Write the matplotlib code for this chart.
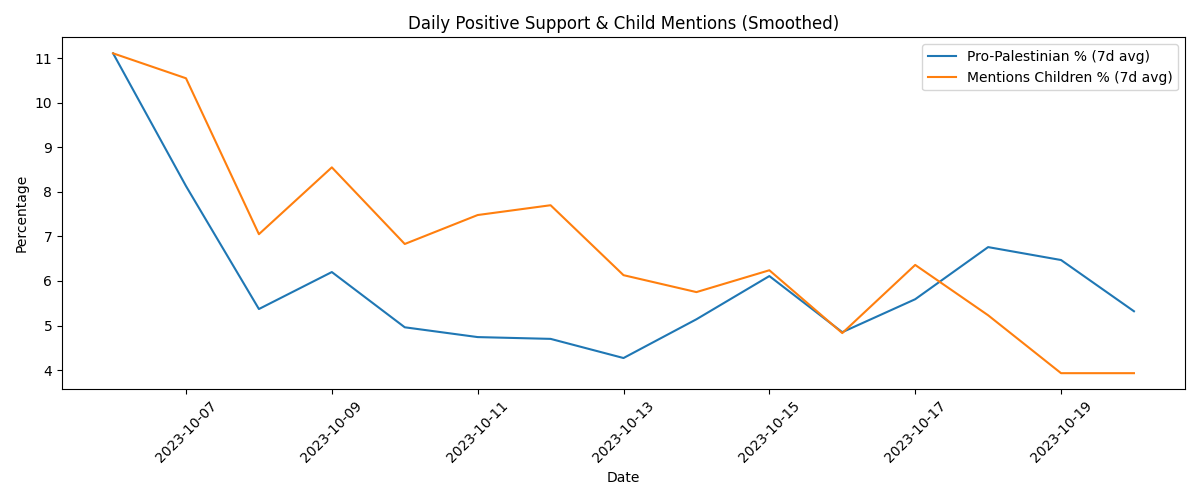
import matplotlib
matplotlib.use("Agg")
import matplotlib.pyplot as plt
import matplotlib.dates as mdates
import pandas as pd

dates = pd.date_range("2023-10-06", "2023-10-20", freq="D")
pro_pal = [11.11, 8.13, 5.37, 6.20, 4.96, 4.74, 4.70, 4.27, 5.14, 6.11,
           4.85, 5.59, 6.76, 6.47, 5.32]
children = [11.11, 10.55, 7.05, 8.55, 6.83, 7.48, 7.70, 6.13, 5.75, 6.24,
            4.83, 6.36, 5.23, 3.93, 3.93]

fig, ax = plt.subplots(figsize=(12, 5))
ax.plot(dates, pro_pal, label="Pro-Palestinian % (7d avg)")
ax.plot(dates, children, label="Mentions Children % (7d avg)")
ax.xaxis.set_major_locator(mdates.DayLocator(interval=2, bymonthday=range(1, 32, 2)))
ax.xaxis.set_major_formatter(mdates.DateFormatter("%Y-%m-%d"))
plt.setp(ax.get_xticklabels(), rotation=45)
ax.set_title("Daily Positive Support & Child Mentions (Smoothed)")
ax.set_xlabel("Date")
ax.set_ylabel("Percentage")
ax.legend(loc="upper right")

plt.tight_layout()
plt.savefig("out.png", dpi=100)
